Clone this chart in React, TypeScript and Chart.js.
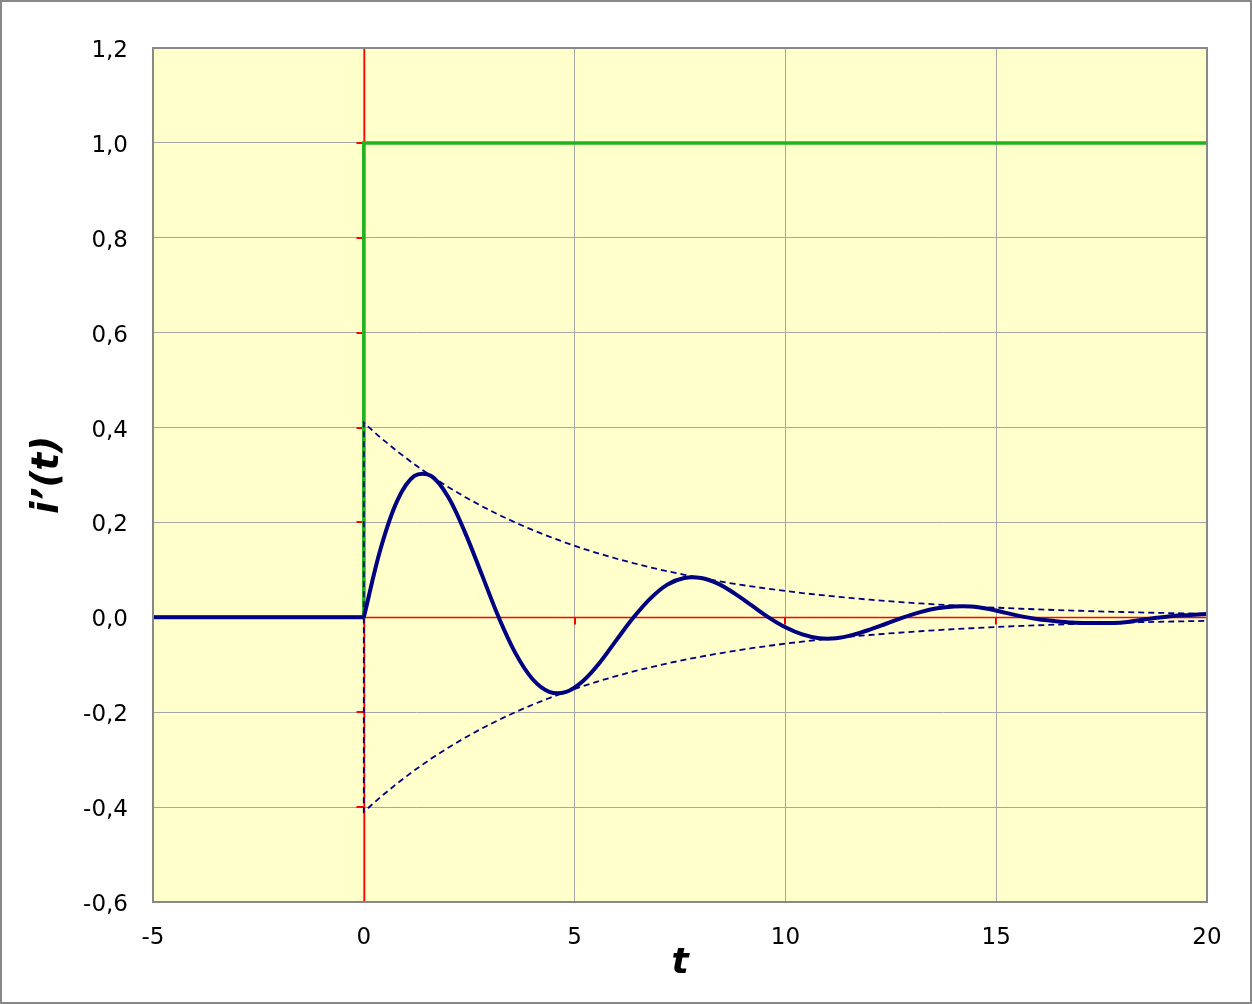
import React, { useEffect, useRef } from "react";
import { Chart, registerables } from "chart.js";

Chart.register(...registerables);

// i'(t) before the step
const tPre = [-5, 0];
const iPre = [0, 0];
// time axis for the response curve (value readings every 0.4)
const tCurve = [
  0, 0.4, 0.8, 1.2, 1.6, 2.0, 2.4, 2.8, 3.2, 3.6, 4.0, 4.4, 4.8, 5.2, 5.6, 6.0, 6.4, 6.8,
  7.2, 7.6, 8.0, 8.4, 8.8, 9.2, 9.6, 10.0, 10.4, 10.8, 11.2, 11.6, 12.0, 12.4, 12.8, 13.2,
  13.6, 14.0, 14.4, 14.8, 15.2, 15.6, 16.0, 16.4, 16.8, 17.2, 17.6, 18.0, 18.4, 18.8, 19.2,
  19.6, 20.0,
];
// i'(t) response
const iCurve = [
  0, 0.145, 0.247, 0.298, 0.298, 0.254, 0.179, 0.09, 0.0, -0.076, -0.13, -0.157, -0.157,
  -0.134, -0.095, -0.047, 0.0, 0.04, 0.069, 0.083, 0.083, 0.071, 0.05, 0.025, 0.0, -0.021,
  -0.036, -0.044, -0.044, -0.037, -0.026, -0.013, 0.0, 0.011, 0.019, 0.023, 0.023, 0.018,
  0.01, 0.002, -0.004, -0.008, -0.011, -0.012, -0.012, -0.011, -0.006, -0.001, 0.003, 0.005,
  0.007,
];
// envelope
const envT = [
  0, 0, 0.4, 0.8, 1.2, 1.6, 2.0, 2.4, 2.8, 3.2, 3.6, 4.0, 4.4, 4.8, 5.2, 5.6, 6.0, 6.4, 6.8,
  7.2, 7.6, 8.0, 8.4, 8.8, 9.2, 9.6, 10.0, 10.4, 10.8, 11.2, 11.6, 12.0, 12.4, 12.8, 13.2,
  13.6, 14.0, 14.4, 14.8, 15.2, 15.6, 16.0, 16.4, 16.8, 17.2, 17.6, 18.0, 18.4, 18.8, 19.2,
  19.6, 20.0,
];
const envUpper = [
  0, 0.41, 0.3785, 0.3494, 0.3225, 0.2977, 0.2748, 0.2537, 0.2342, 0.2162, 0.1996, 0.1842,
  0.1701, 0.157, 0.1449, 0.1338, 0.1235, 0.114, 0.1052, 0.0971, 0.0897, 0.0828, 0.0764,
  0.0705, 0.0651, 0.0601, 0.0555, 0.0512, 0.0473, 0.0437, 0.0403, 0.0372, 0.0343, 0.0317,
  0.0293, 0.027, 0.0249, 0.023, 0.0212, 0.0196, 0.0181, 0.0167, 0.0154, 0.0142, 0.0132,
  0.0121, 0.0112, 0.0103, 0.0096, 0.0088, 0.0081, 0.0075,
];
const envLower = envUpper.map((v) => -v);
// unit step input
const stepT = [-5, 0, 0, 20];
const stepY = [0, 0, 1, 1];

const yTicks = [-0.6, -0.4, -0.2, 0, 0.2, 0.4, 0.6, 0.8, 1.0, 1.2];
const xTicks = [-5, 0, 5, 10, 15, 20];

const toPts = (xs: number[], ys: number[]) => xs.map((x, i) => ({ x, y: ys[i] }));

const decor = {
  id: "decor",
  beforeDraw(chart: any) {
    const { ctx, chartArea: a } = chart;
    ctx.save();
    ctx.fillStyle = "#ffffff";
    ctx.fillRect(0, 0, chart.width, chart.height);
    ctx.fillStyle = "#FFFFCC";
    ctx.fillRect(a.left, a.top, a.right - a.left, a.bottom - a.top);
    ctx.restore();
  },
  beforeDatasetsDraw(chart: any) {
    const { ctx, chartArea: a, scales } = chart;
    const x0 = Math.round(scales.x.getPixelForValue(0)) + 0.5;
    const y0 = Math.round(scales.y.getPixelForValue(0)) + 0.5;
    ctx.save();
    ctx.strokeStyle = "#FF0000";
    ctx.lineWidth = 1.5;
    ctx.beginPath();
    ctx.moveTo(x0, a.top);
    ctx.lineTo(x0, a.bottom);
    ctx.moveTo(a.left, y0);
    ctx.lineTo(a.right, y0);
    ctx.stroke();
    ctx.lineWidth = 2;
    ctx.beginPath();
    yTicks.forEach((v) => {
      const y = Math.round(scales.y.getPixelForValue(v));
      ctx.moveTo(x0 - 8, y);
      ctx.lineTo(x0, y);
    });
    xTicks.forEach((v) => {
      const x = Math.round(scales.x.getPixelForValue(v));
      ctx.moveTo(x, y0);
      ctx.lineTo(x, y0 + 7);
    });
    ctx.stroke();
    ctx.restore();
  },
  afterDatasetsDraw(chart: any) {
    const { ctx, chartArea: a } = chart;
    ctx.save();
    ctx.strokeStyle = "#888888";
    ctx.lineWidth = 2;
    ctx.strokeRect(a.left, a.top, a.right - a.left, a.bottom - a.top);
    ctx.strokeRect(1, 1, chart.width - 2, chart.height - 2);
    ctx.restore();
  },
};

export default function App() {
  const ref = useRef<HTMLCanvasElement>(null);
  useEffect(() => {
    document.body.style.margin = "0";
    const font = "'DejaVu Sans', Verdana, sans-serif";
    const navy = "#000080";
    const chart = new Chart(ref.current as HTMLCanvasElement, {
      type: "line",
      data: {
        datasets: [
          {
            data: toPts(tPre, iPre),
            borderColor: navy,
            borderWidth: 4,
            pointRadius: 0,
            tension: 0,
          },
          {
            data: toPts(tCurve, iCurve),
            borderColor: navy,
            borderWidth: 4,
            pointRadius: 0,
            tension: 0.35,
          },
          {
            data: toPts(envT, envUpper),
            borderColor: navy,
            borderWidth: 1.8,
            borderDash: [6, 4],
            pointRadius: 0,
            tension: 0,
          },
          {
            data: toPts(envT, envLower),
            borderColor: navy,
            borderWidth: 1.8,
            borderDash: [6, 4],
            pointRadius: 0,
            tension: 0,
          },
          {
            data: toPts(stepT, stepY),
            borderColor: "#1EB41E",
            borderWidth: 3.5,
            pointRadius: 0,
            tension: 0,
          },
        ],
      },
      options: {
        animation: false,
        responsive: false,
        events: [],
        layout: { padding: { left: 0, top: 48, right: 45, bottom: 0 } },
        plugins: { legend: { display: false }, tooltip: { enabled: false } },
        scales: {
          x: {
            type: "linear",
            min: -5,
            max: 20,
            afterFit: (s: any) => {
              s.height = 102;
            },
            afterBuildTicks: (s: any) => {
              s.ticks = xTicks.map((v) => ({ value: v }));
            },
            ticks: {
              color: "#000",
              font: { family: font, size: 23 },
              padding: 22,
              maxRotation: 0,
              callback: (v: any) => String(v),
            },
            grid: { color: "#A6A6A6", lineWidth: 1, drawTicks: false },
            border: { display: false },
            title: {
              display: true,
              text: "t",
              color: "#000",
              font: { family: font, size: 36, weight: "bold", style: "italic" },
              padding: { top: 0, bottom: 19 },
            },
          },
          y: {
            type: "linear",
            min: -0.6,
            max: 1.2,
            afterFit: (s: any) => {
              s.width = 153;
            },
            afterBuildTicks: (s: any) => {
              s.ticks = yTicks.map((v) => ({ value: v }));
            },
            ticks: {
              color: "#000",
              font: { family: font, size: 23 },
              padding: 25,
              labelOffset: 3,
              callback: (v: any) => Number(v).toFixed(1).replace(".", ","),
            },
            grid: { color: "#A6A6A6", lineWidth: 1, drawTicks: false },
            border: { display: false },
            title: {
              display: true,
              text: "i’(t)",
              color: "#000",
              font: { family: font, size: 37, weight: "bold", style: "italic" },
              padding: { top: 26, bottom: 0 },
            },
          },
        },
      },
      plugins: [decor],
    });
    return () => chart.destroy();
  }, []);
  return (
    <div style={{ position: "absolute", left: 0, top: 0 }}>
      <canvas ref={ref} width={1252} height={1004} style={{ display: "block" }} />
    </div>
  );
}
